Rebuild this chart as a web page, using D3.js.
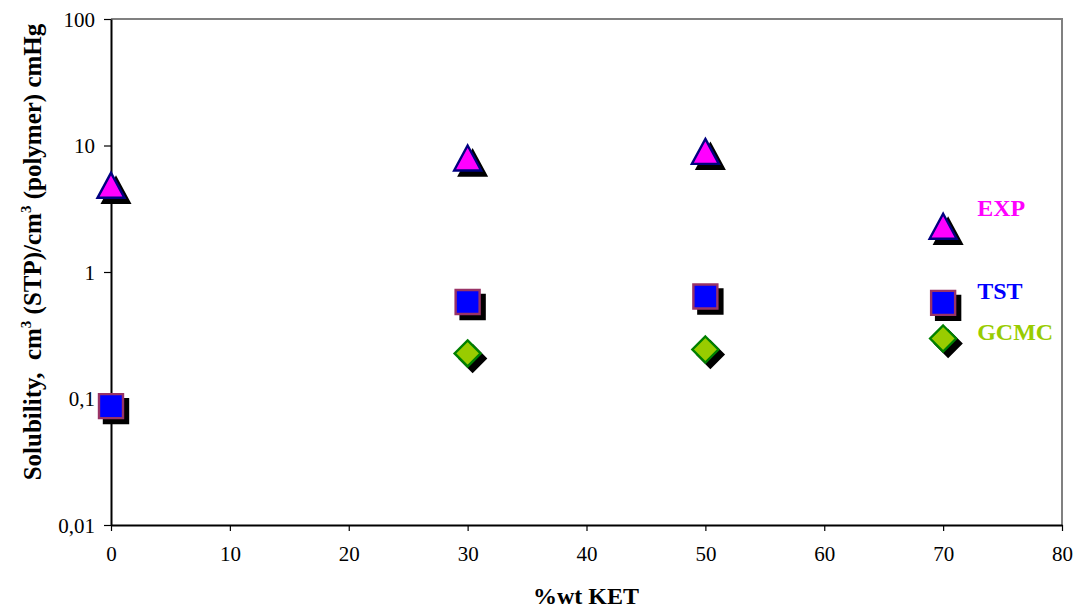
<!DOCTYPE html>
<html>
<head>
<meta charset="utf-8">
<script src="https://cdn.jsdelivr.net/npm/d3@7"></script>
<style>
  html, body { margin: 0; padding: 0; background: #fff; }
  svg { display: block; font-family: "Liberation Serif", "Times New Roman", serif; }
</style>
</head>
<body>
<svg id="chart" width="1075" height="610"></svg>
<script>
// Solubility vs KET content, three data sources
const kets = [0, 30, 50, 70];
const expValues = [4.8, 7.9, 8.9, 2.28];
const tstValues = [0.087, 0.58, 0.64, 0.57];
const gcmcKets = [30, 50, 70];
const gcmcValues = [0.227, 0.244, 0.298];

const xTicks = [0, 10, 20, 30, 40, 50, 60, 70, 80];
const yTicks = [0.01, 0.1, 1, 10, 100];
const yTickLabels = ["0,01", "0,1", "1", "10", "100"];

const seriesNames = ["EXP", "TST", "GCMC"];

const svg = d3.select("#chart");
const plotLeft = 111, plotRight = 1062, plotTop = 19, plotBottom = 525;

const x = d3.scaleLinear().domain([0, 80]).range([plotLeft, plotRight]);
const y = d3.scaleLog().domain([0.01, 100]).range([plotBottom, plotTop]);

// plot frame: grey top/right, black axes drawn afterwards
svg.append("path")
  .attr("d", `M${plotLeft},${plotTop}H${plotRight}V${plotBottom}`)
  .attr("fill", "none")
  .attr("stroke", "#808080")
  .attr("stroke-width", 2);

const xAxis = svg.append("g")
  .attr("transform", `translate(0,${plotBottom})`)
  .call(d3.axisBottom(x).tickValues(xTicks).tickSize(6).tickSizeOuter(0).tickPadding(15)
    .tickFormat(d3.format("d")));

const yAxis = svg.append("g")
  .attr("transform", `translate(${plotLeft},0)`)
  .call(d3.axisLeft(y).tickValues(yTicks).tickSize(7).tickSizeOuter(0).tickPadding(9)
    .tickFormat((d, i) => yTickLabels[i]));

[xAxis, yAxis].forEach(g => {
  g.select(".domain").attr("stroke", "#000").attr("stroke-width", 2);
  g.selectAll(".tick line").attr("stroke", "#000").attr("stroke-width", 1.2);
  g.selectAll(".tick text")
    .attr("fill", "#000")
    .style("font-family", '"Liberation Serif", "Times New Roman", serif')
    .style("font-size", "21px");
});
yAxis.selectAll(".tick text").attr("dy", "0.34em");

// axis titles
svg.append("text")
  .attr("x", 586).attr("y", 604)
  .attr("text-anchor", "middle")
  .attr("font-weight", "bold")
  .attr("font-size", 24)
  .text("%wt KET");

const yTitle = svg.append("text")
  .attr("transform", "translate(41,252) rotate(-90)")
  .attr("text-anchor", "middle")
  .attr("font-weight", "bold")
  .attr("font-size", 25);
yTitle.append("tspan").text("Solubility,\u00A0 cm");
yTitle.append("tspan").attr("font-size", 15).attr("dy", -10).text("3");
yTitle.append("tspan").attr("dy", 10).text(" (STP)/cm");
yTitle.append("tspan").attr("font-size", 15).attr("dy", -10).text("3");
yTitle.append("tspan").attr("dy", 10).text(" (polymer) cmHg");

// marker shapes
const triPath = "M0,-13L13.5,12L-13.5,12Z";
const sqPath = "M-12,-12H12V12H-12Z";
const diaPath = "M0,-13L13,0L0,13L-13,0Z";

function drawSeries(xs, vals, path, fill, stroke) {
  const g = svg.append("g");
  const pts = xs.map((k, i) => [x(k), y(vals[i])]);
  g.selectAll("path.shadow").data(pts).join("path")
    .attr("class", "shadow")
    .attr("d", path)
    .attr("transform", d => `translate(${d[0] + 5},${d[1] + 5})`)
    .attr("fill", "#000").attr("stroke", "#000").attr("stroke-width", 2.4);
  g.selectAll("path.mark").data(pts).join("path")
    .attr("class", "mark")
    .attr("d", path)
    .attr("transform", d => `translate(${d[0]},${d[1]})`)
    .attr("fill", fill).attr("stroke", stroke).attr("stroke-width", 2.4)
    .attr("stroke-linejoin", "miter");
}

drawSeries(kets, expValues, triPath, "#FF00FF", "#000080");
drawSeries(kets, tstValues, sqPath, "#0000FF", "#993366");
drawSeries(gcmcKets, gcmcValues, diaPath, "#99CC00", "#008000");

// series labels next to the last points
const labelColors = ["#FF00FF", "#0000FF", "#99CC00"];
const lastVals = [expValues[3], tstValues[3], gcmcValues[2]];
const labelDy = [-11, -4, 1];
seriesNames.forEach((name, i) => {
  svg.append("text")
    .attr("x", x(70) + 34)
    .attr("y", y(lastVals[i]) + labelDy[i])
    .attr("font-weight", "bold")
    .attr("font-size", 24)
    .attr("fill", labelColors[i])
    .text(name);
});
</script>
</body>
</html>
